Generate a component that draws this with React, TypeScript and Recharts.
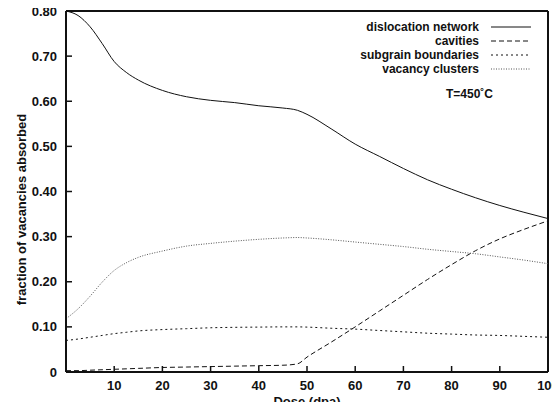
import React from 'react';
import { LineChart, Line, XAxis, YAxis, Legend, ReferenceLine } from 'recharts';

const doses = [0, 2.5, 5, 7.5, 10, 12.5, 15, 20, 25, 30, 35, 40, 45, 48, 50, 55, 60, 65, 70, 75, 80, 85, 90, 95, 100];
const dislocationNetwork = [0.8, 0.79, 0.765, 0.728, 0.688, 0.664, 0.647, 0.624, 0.61, 0.602, 0.597, 0.59, 0.585, 0.58, 0.571, 0.539, 0.505, 0.478, 0.451, 0.426, 0.405, 0.386, 0.369, 0.354, 0.34];
const cavities = [0.003, 0.003, 0.004, 0.005, 0.006, 0.007, 0.008, 0.01, 0.011, 0.012, 0.013, 0.014, 0.015, 0.018, 0.033, 0.066, 0.1, 0.135, 0.17, 0.205, 0.238, 0.269, 0.295, 0.316, 0.335];
const subgrainBoundaries = [0.07, 0.073, 0.077, 0.081, 0.085, 0.088, 0.091, 0.094, 0.096, 0.098, 0.099, 0.0995, 0.1, 0.1, 0.0995, 0.097, 0.095, 0.092, 0.089, 0.086, 0.084, 0.082, 0.081, 0.079, 0.077];
const vacancyClusters = [0.118, 0.14, 0.168, 0.199, 0.225, 0.242, 0.254, 0.268, 0.279, 0.285, 0.29, 0.294, 0.297, 0.298, 0.297, 0.293, 0.288, 0.283, 0.278, 0.272, 0.267, 0.262, 0.255, 0.248, 0.24];

const xTicks = [10, 20, 30, 40, 50, 60, 70, 80, 90, 100];
const yTicks = [0, 0.1, 0.2, 0.3, 0.4, 0.5, 0.6, 0.7, 0.8];

const seriesInfo = [
  { key: 'dislocation', name: 'dislocation network', values: dislocationNetwork, dash: undefined as string | undefined, color: '#111' },
  { key: 'cavities', name: 'cavities', values: cavities, dash: '5 3', color: '#111' },
  { key: 'subgrain', name: 'subgrain boundaries', values: subgrainBoundaries, dash: '2 3', color: '#111' },
  { key: 'vacancy', name: 'vacancy clusters', values: vacancyClusters, dash: '1 1.5', color: '#555' },
];

const data = doses.map((d, i) => {
  const row: Record<string, number> = { dose: d };
  seriesInfo.forEach((s) => {
    row[s.key] = s.values[i];
  });
  return row;
});

const FONT = '"Liberation Sans", Arial, Helvetica, sans-serif';

const fmtY = (v: number) => (v === 0 ? '0' : v.toFixed(2));

const LegendContent = () => (
  <div style={{ fontFamily: FONT, fontWeight: 'bold', fontSize: 12, color: '#111' }}>
    {seriesInfo.map((s) => (
      <div key={s.key} style={{ display: 'flex', justifyContent: 'flex-end', alignItems: 'center', height: 14, lineHeight: '14px' }}>
        <span style={{ whiteSpace: 'nowrap' }}>{s.name}</span>
        <svg width={48} height={14} style={{ marginLeft: 6 }}>
          <line x1={6} x2={46} y1={7} y2={7} stroke={s.color} strokeWidth={1} strokeDasharray={s.dash} />
        </svg>
      </div>
    ))}
    <div style={{ display: 'flex', justifyContent: 'flex-end', marginTop: 11, paddingRight: 40, height: 14, lineHeight: '14px' }}>
      <span>T=450˚C</span>
    </div>
  </div>
);

const YTitle = (props: any) => {
  const vb = props.viewBox || {};
  const cx = 21;
  const cy = (vb.y ?? 12) + (vb.height ?? 360) / 2 + 18;
  return (
    <text
      x={cx}
      y={cy}
      transform={`rotate(-90, ${cx}, ${cy})`}
      textAnchor="middle"
      dominantBaseline="central"
      style={{ fontFamily: FONT, fontWeight: 'bold', fontSize: 13, fill: '#111' }}
    >
      fraction of vacancies absorbed
    </text>
  );
};

export default function App() {
  const tickStyle = { fontFamily: FONT, fontWeight: 'bold' as const, fontSize: 13, fill: '#111' };
  return (
    <div style={{ width: 560, height: 410, margin: -8, background: '#fff' }}>
      <LineChart width={560} height={410} data={data} margin={{ top: 11, right: 12, left: 0, bottom: 0 }}>
        <XAxis
          dataKey="dose"
          type="number"
          domain={[0, 100]}
          ticks={xTicks}
          interval={0}
          height={38}
          tickSize={-6}
          tickMargin={15}
          tick={tickStyle}
          stroke="#111"
          axisLine={{ stroke: '#111', strokeWidth: 2 }}
          tickLine={{ stroke: '#111', strokeWidth: 1.5 }}
          label={{ value: 'Dose (dpa)', position: 'insideBottom', offset: 4, style: { fontFamily: FONT, fontWeight: 'bold', fontSize: 13, fill: '#111' } }}
        />
        <YAxis
          type="number"
          domain={[0, 0.8]}
          ticks={yTicks}
          interval={0}
          width={66}
          tickSize={-6}
          tickMargin={15}
          tickFormatter={fmtY}
          tick={tickStyle}
          stroke="#111"
          axisLine={{ stroke: '#111', strokeWidth: 2 }}
          tickLine={{ stroke: '#111', strokeWidth: 1.5 }}
          label={<YTitle />}
        />
        <ReferenceLine y={0.8} stroke="#111" strokeWidth={2} ifOverflow="visible" />
        <ReferenceLine x={100} stroke="#111" strokeWidth={2} ifOverflow="visible" />
        <Legend
          layout="vertical"
          align="center"
          verticalAlign="middle"
          content={<LegendContent />}
          wrapperStyle={{ top: 20, left: 293, width: 240 }}
        />
        {seriesInfo.map((s) => (
          <Line
            key={s.key}
            dataKey={s.key}
            name={s.name}
            type="monotone"
            stroke={s.color}
            strokeWidth={1}
            strokeDasharray={s.dash}
            dot={false}
            activeDot={false}
            isAnimationActive={false}
          />
        ))}
      </LineChart>
    </div>
  );
}
